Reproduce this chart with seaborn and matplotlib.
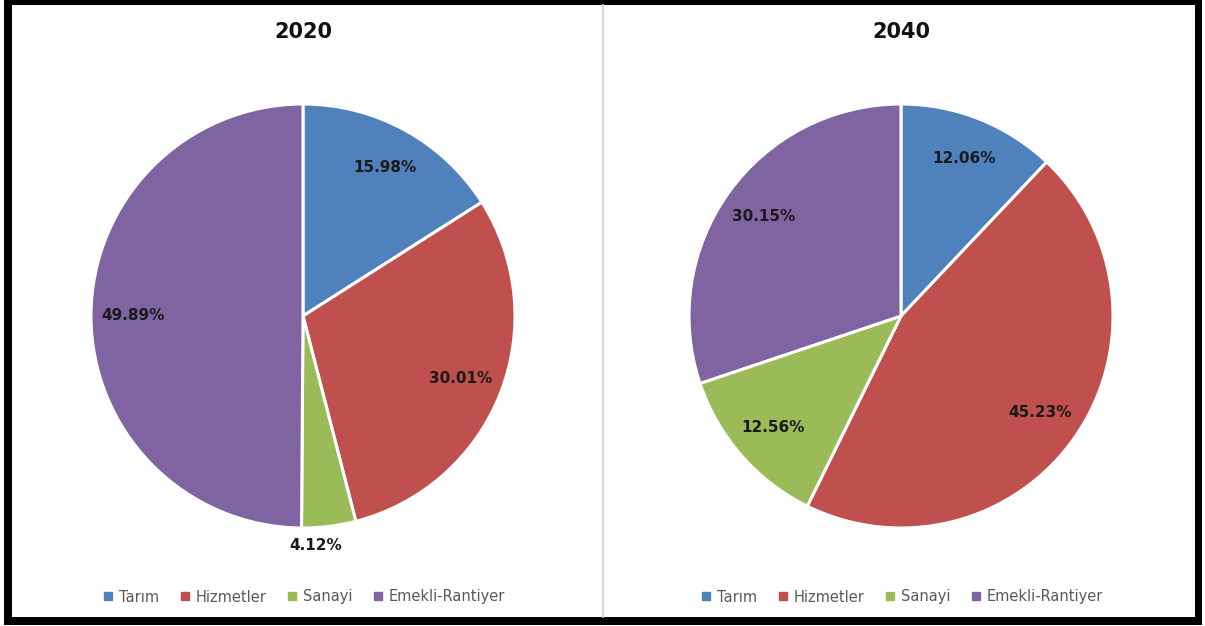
import matplotlib
matplotlib.use("Agg")
import matplotlib.pyplot as plt
import seaborn as sns
from matplotlib.patches import Rectangle
from matplotlib.lines import Line2D
import numpy as np

sns.set_theme(style="white")
plt.rcParams['font.family'] = ['DejaVu Sans']

categories = ["Tarım", "Hizmetler", "Sanayi", "Emekli-Rantiyer"]
years = ["2020", "2040"]
values_2020 = [15.98, 30.01, 4.12, 49.89]
values_2040 = [12.06, 45.23, 12.56, 30.15]
colors = ["#4F81BD", "#C0504D", "#9BBB59", "#8064A2"]

W, H = 1205, 626
fig = plt.figure(figsize=(W / 100, H / 100), dpi=100)
fig.patch.set_facecolor("white")

def px_axes(cx, cy, r):
    return fig.add_axes([(cx - r) / W, 1 - (cy + r) / H, 2 * r / W, 2 * r / H])

centers = [(303, 316), (901, 316)]
R = 212
for (cx, cy), year, vals in zip(centers, years, [values_2020, values_2040]):
    ax = px_axes(cx, cy, R)
    wedges, texts, autotexts = ax.pie(
        vals, colors=colors, startangle=90, counterclock=False,
        autopct=lambda p: f"{p:.2f}%", pctdistance=0.8,
        wedgeprops=dict(edgecolor="white", linewidth=2.2),
        textprops=dict(fontsize=11, fontweight="bold", color="#1a1a1a"))
    ax.set_xlim(-1, 1)
    ax.set_ylim(-1, 1)
    ax.set_aspect("equal")
    ax.axis("off")
    # small slices get their label outside the pie
    for w, t, v in zip(wedges, autotexts, vals):
        if v < 6:
            ang = np.deg2rad((w.theta1 + w.theta2) / 2)
            t.set_position((0.5 * np.cos(ang), 1.09 * np.sin(ang)))
    fig.text(cx / W, 1 - 32 / H, year, ha="center", va="center",
             fontsize=15, fontweight="bold", color="#111111")
    handles = [Line2D([0], [0], marker="s", linestyle="none", markersize=5.5,
                      markerfacecolor=c, markeredgecolor=c) for c in colors]
    fig.legend(handles, categories, loc="center", ncol=4,
               bbox_to_anchor=(cx / W, 1 - 597 / H), frameon=False,
               fontsize=10.5, labelcolor="#595959", handletextpad=0.2,
               columnspacing=1.3, handlelength=1.0)

# divider
fig.add_artist(Line2D([603 / W, 603 / W], [1 - 617 / H, 1 - 5 / H],
                      color="#D9D9D9", linewidth=1.5))
# black frame
for x0, y0, w, h in [(4, 0, 1198, 5), (4, 617, 1198, 8), (4, 0, 8, 625), (1195, 0, 7, 625)]:
    fig.add_artist(Rectangle((x0 / W, 1 - (y0 + h) / H), w / W, h / H,
                             transform=fig.transFigure, facecolor="black",
                             edgecolor="none"))

fig.savefig("out.png", dpi=100, facecolor="white")
